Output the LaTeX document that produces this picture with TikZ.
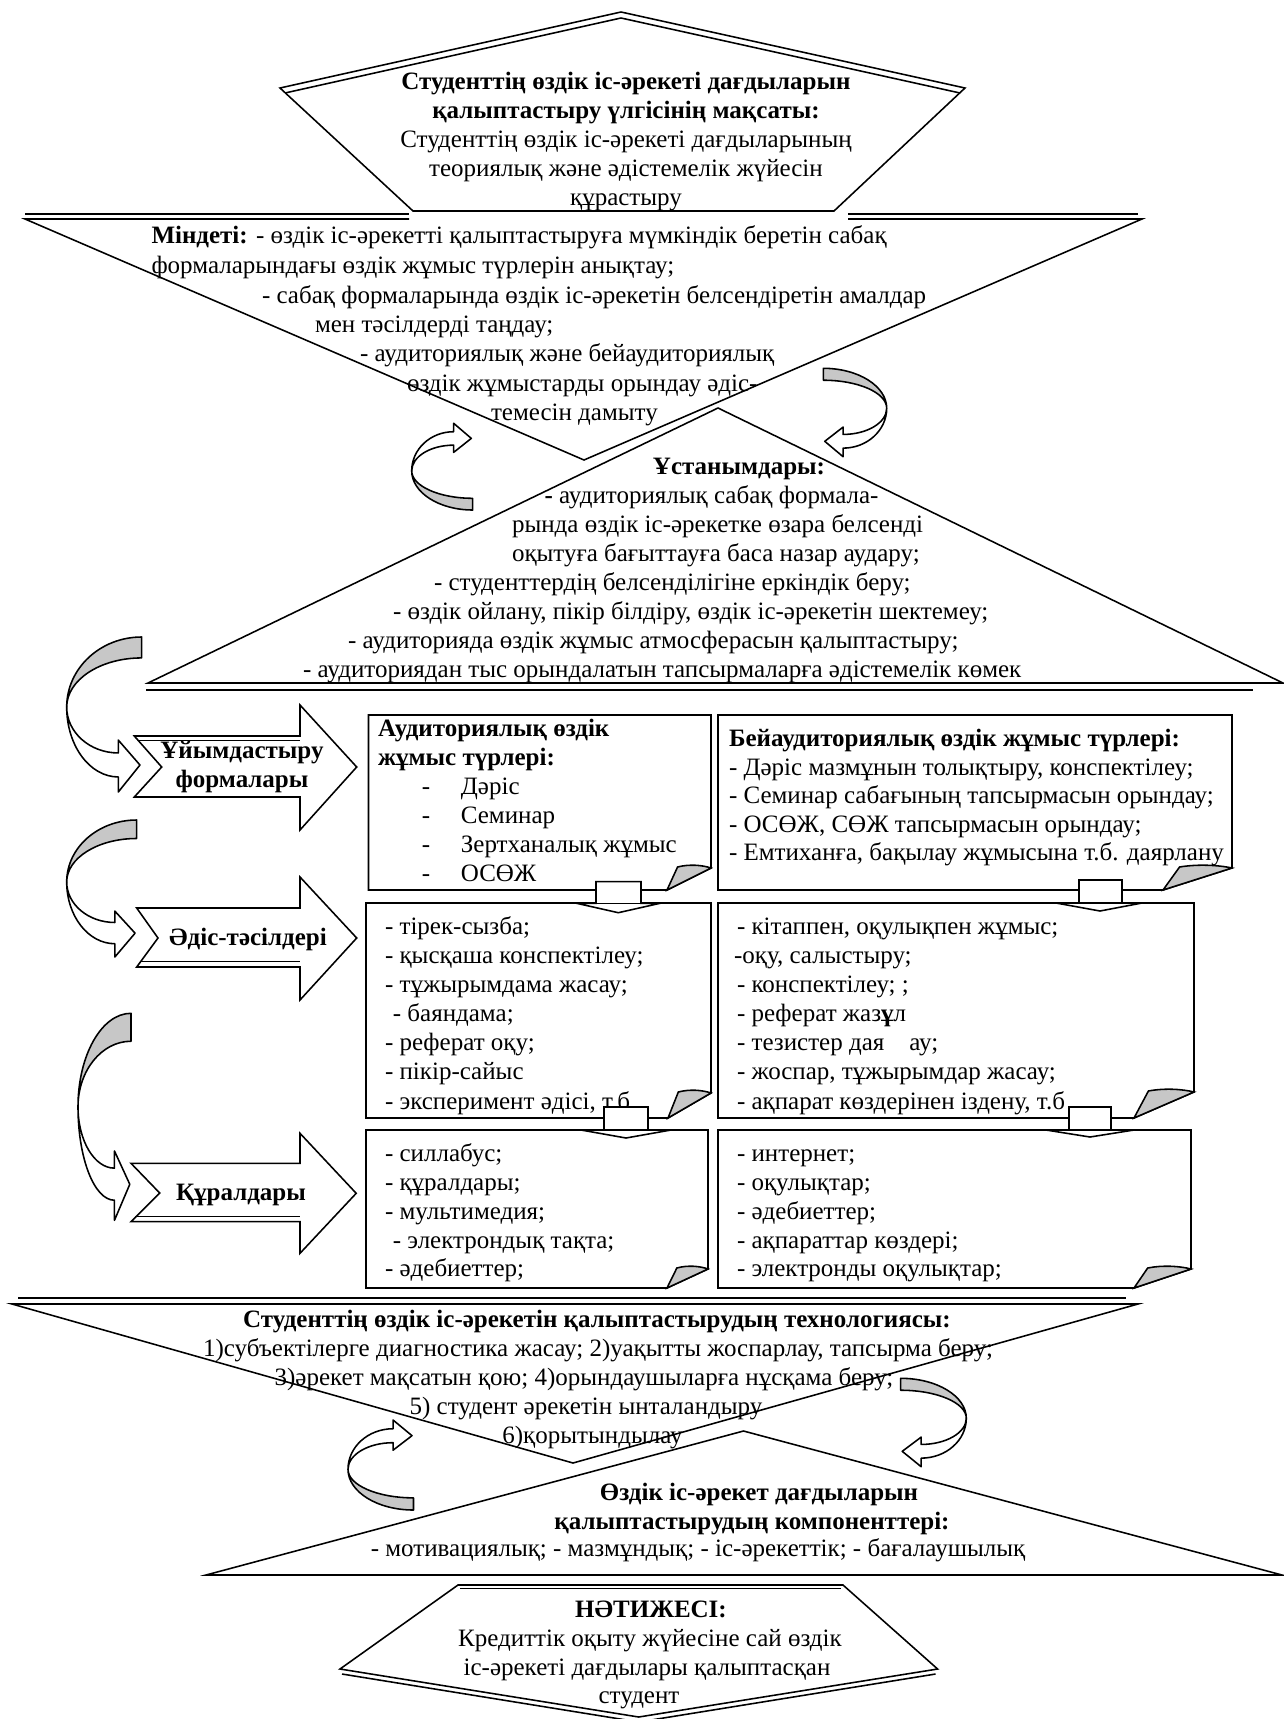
\documentclass[tikz,border=0pt]{standalone}
\usepackage{fontspec}
\setmainfont{Liberation Serif}
\definecolor{shade}{gray}{0.78}
\tikzset{
  shp/.style={draw=black, line width=0.75pt, fill=white},
  ln/.style={draw=black, line width=0.75pt},
  bk/.style={draw=black, line width=0.75pt, fill=shade, line join=round},
  txt/.style={inner sep=0pt, outer sep=0pt, font=\fontsize{12}{13.9}\selectfont},
  bt/.style={inner sep=0pt, outer sep=0pt, font=\fontsize{12}{13.9}\selectfont\bfseries},
}
\newcommand{\crvshape}{%
  \draw[bk] (1,0) .. controls (0.4477,0) and (0,0.202) .. (0,0.452)
        .. controls (0,0.277) and (0.4477,0.135) .. (1,0.135) -- cycle;
  \draw[shp, line join=round] (0,0.452) .. controls (0,0.701) and (0.308,0.903) .. (0.688,0.903)
        -- (0.688,1) -- (0.977,0.826) -- (0.688,0.665) -- (0.688,0.748)
        .. controls (0.308,0.748) and (0,0.615) .. (0,0.452) -- cycle;
}
\newcommand{\foldbox}[6]{%
  \draw[shp] (#1,#2) -- (#3,#2) -- (#3,#4-#6) -- (#3-#5,#4) -- (#1,#4) -- cycle;
  \draw[bk, line join=miter] (#3-#5,#4) -- (#3-0.76*#5,#4-#6-1)
        .. controls (#3-0.5*#5,#4-#6-4) and (#3-0.2*#5,#4-#6-3) .. (#3,#4-#6) -- cycle;
}
\begin{document}
\begin{tikzpicture}[x=0.48pt,y=-0.48pt]
\useasboundingbox (0,0) rectangle (1284,1719);
\fill[white] (0,0) rectangle (1284,1719);

% ---- Mindeti (inverted triangle)
\fill[white] (25,219) -- (1142,219) -- (584,460) -- cycle;
\draw[ln] (409,219) -- (25,219) -- (584,460) -- (1142,219) -- (848,219);
\draw[ln] (25,214) -- (409,214) (848,214) -- (1138,214);

% ---- Goal pentagon
\draw[shp] (621,12) -- (965,88) -- (834,211) -- (413,211) -- (280,88) -- cycle;
\draw[ln] (285,93) -- (621,18) -- (960,93);

% ---- Ustanymdary triangle
\draw[shp] (148,683) -- (718,408) -- (1283,683) -- cycle;
\draw[ln] (146,690) -- (1253,690);

% ---- Technology triangle
\draw[shp] (12,1304) -- (1138,1304) -- (573,1463) -- cycle;
\draw[ln] (18,1298) -- (1126,1298);

% ---- Components triangle
\draw[shp] (206,1575) -- (743.5,1431) -- (1282,1575) -- cycle;

% ---- Result pentagon
\draw[shp] (458,1585) -- (843,1585) -- (937.6,1669) -- (638.7,1717) -- (340,1669) -- cycle;
\draw[ln] (460,1588.5) -- (841,1588.5);
\draw[ln] (342,1674) -- (638.7,1722) -- (935.6,1674);

% ---- Boxes
\foldbox{368.5}{715}{711}{890}{44}{22}
\foldbox{718}{715}{1232}{890}{69}{22}
\foldbox{366}{903}{711}{1118}{43}{25}
\foldbox{718}{903}{1194}{1118}{60}{26}
\foldbox{366}{1130}{708}{1288}{41}{19}
\foldbox{718}{1130}{1191}{1288}{57}{19}

% ---- notched block arrows
\draw[shp] (134.3,736) -- (300,736) -- (300,705) -- (356.7,767) -- (300,830) -- (300,797) -- (134.3,797) -- (161.7,767) -- cycle;
\draw[ln] (138.5,740.5) -- (300,740.5);
\draw[shp] (136.7,908) -- (300,908) -- (300,877) -- (356.7,938) -- (300,1000) -- (300,967) -- (136.7,967) -- (158,938) -- cycle;
\draw[ln] (141,961.5) -- (300,961.5);
\draw[shp] (131,1163.3) -- (300,1163.3) -- (300,1133.3) -- (356.2,1193.3) -- (300,1253.3) -- (300,1221.7) -- (131,1221.7) -- (159.7,1193) -- cycle;
\draw[ln] (135,1216.5) -- (300,1216.5);

% ---- curved arrows
\begin{scope}[shift={(66.7,637)},xscale=75,yscale=155] \crvshape \end{scope}
\begin{scope}[shift={(66.7,820)},xscale=70,yscale=137] \crvshape \end{scope}
\begin{scope}[shift={(78,1013.3)},xscale=53,yscale=207] \crvshape \end{scope}
\begin{scope}[shift={(886.7,368.3)},xscale=-63.4,yscale=88.4] \crvshape \end{scope}
\begin{scope}[shift={(411.7,510)},xscale=61,yscale=-86.7] \crvshape \end{scope}
\begin{scope}[shift={(348,1510)},xscale=65.5,yscale=-90] \crvshape \end{scope}
\begin{scope}[shift={(966.3,1378.3)},xscale=-65.6,yscale=88.4] \crvshape \end{scope}

% ---- Goal text
\node[txt, align=center, anchor=north] (goal) at (626,69.7)
  {\strut\textbf{Студенттің өздік іс-әрекеті дағдыларын}\\
   \textbf{қалыптастыру үлгісінің мақсаты:}\\
   Студенттің өздік іс-әрекеті дағдыларының\\
   теориялық және әдістемелік жүйесін\\
   құрастыру};

% ---- Mindeti text
\node[txt, anchor=base west] (m1) at (151.5,243) {\textbf{Міндеті:} - өздік іс-әрекетті қалыптастыруға мүмкіндік беретін сабақ};
\node[txt, anchor=base west] (m2) at (151.5,273) {формаларындағы өздік жұмыс түрлерін анықтау;};
\node[txt, anchor=base west] (m3) at (262,303) {- сабақ формаларында өздік іс-әрекетін белсендіретін амалдар};
\node[txt, anchor=base west] (m4) at (315,332) {мен тәсілдерді таңдау;};
\node[txt, anchor=base west] (m5) at (360,361) {- аудиториялық және бейаудиториялық};
\node[txt, anchor=base west] (m6) at (407,391) {өздік жұмыстарды орындау әдіс-};
\node[txt, anchor=base west] (m7) at (491,420) {темесін дамыту};

% ---- Ustanymdary text
\node[bt, anchor=base] (u1) at (739,474) {Ұстанымдары:};
\node[txt, anchor=base west] (u2) at (544.5,503) {\textbf{-} аудиториялық сабақ формала-};
\node[txt, anchor=base west] (u3) at (512,532) {рында өздік іс-әрекетке өзара белсенді};
\node[txt, anchor=base west] (u4) at (512,561) {оқытуға бағыттауға баса назар аудару;};
\node[txt, anchor=base west] (u5) at (434,590) {- студенттердің белсенділігіне еркіндік беру;};
\node[txt, anchor=base west] (u6) at (393,619.5) {- өздік ойлану, пікір білдіру, өздік іс-әрекетін шектемеу;};
\node[txt, anchor=base west] (u7) at (348,648.6) {- аудиторияда өздік жұмыс атмосферасын қалыптастыру;};
\node[txt, anchor=base west] (u8) at (303,677.7) {- аудиториядан тыс орындалатын тапсырмаларға әдістемелік көмек};

% ---- Arrow labels
\node[bt, align=center, anchor=north] (lab1) at (242,738.7) {\strut Ұйымдастыру\\формалары};
\node[bt, anchor=base] (lab2) at (248,945) {Әдіс-тәсілдері};
\node[bt, anchor=base] (lab3) at (241,1200) {Құралдары};

% ---- Box texts
\begin{scope}
\clip (360,700) rectangle (720,885);
\node[txt, align=left, anchor=north west] (b1) at (378,716.7)
  {\strut\textbf{Аудиториялық өздік}\\
   \textbf{жұмыс түрлері:}\\
   \hspace*{21.1pt}\makebox[18.7pt][l]{-}Дәріс\\
   \hspace*{21.1pt}\makebox[18.7pt][l]{-}Семинар\\
   \hspace*{21.1pt}\makebox[18.7pt][l]{-}Зертханалық жұмыс\\
   \hspace*{21.1pt}\makebox[18.7pt][l]{-}ОСӨЖ};
\end{scope}
\node[txt, align=left, anchor=north west, font=\fontsize{12}{13.68}\selectfont] (b2) at (729,726.7)
  {\strut\textbf{Бейаудиториялық өздік жұмыс түрлері:}\\
   - Дәріс мазмұнын толықтыру, конспектілеу;\\
   - Семинар сабағының тапсырмасын орындау;\\
   - ОСӨЖ, СӨЖ тапсырмасын орындау;\\
   - Емтиханға, бақылау жұмысына т.б. даярлану};
\node[txt, align=left, anchor=north west, font=\fontsize{12}{14}\selectfont] (b3) at (385,913.7)
  {\strut - тірек-сызба;\\
   - қысқаша конспектілеу;\\
   - тұжырымдама жасау;\\
   \hspace*{3.8pt}- баяндама;\\
   - реферат оқу;\\
   - пікір-сайыс\\
   - эксперимент әдісі, т.б};
\node[txt, align=left, anchor=north west, font=\fontsize{12}{14}\selectfont] (b4) at (737,913.7)
  {\strut - кітаппен, оқулықпен жұмыс;\\
   \hspace*{-1.4pt}-оқу, салыстыру;\\
   - конспектілеу; ;\\
   - реферат жаз\textbf{ұ}л\\
   - тезистер дая\hspace{12pt}ау;\\
   - жоспар, тұжырымдар жасау;\\
   - ақпарат көздерінен іздену, т.б};
\node[txt, align=left, anchor=north west, font=\fontsize{12}{13.8}\selectfont] (b5) at (385,1141.7)
  {\strut - силлабус;\\
   - құралдары;\\
   - мультимедия;\\
   \hspace*{3.8pt}- электрондық тақта;\\
   - әдебиеттер;};
\node[txt, align=left, anchor=north west, font=\fontsize{12}{13.8}\selectfont] (b6) at (737,1141.7)
  {\strut - интернет;\\
   - оқулықтар;\\
   - әдебиеттер;\\
   - ақпараттар көздері;\\
   - электронды оқулықтар;};

% ---- Technology text
\node[bt, anchor=base] (t1) at (597,1327) {Студенттің өздік іс-әрекетін қалыптастырудың технологиясы:};
\node[txt, anchor=base] (t2) at (598,1356) {1)субъектілерге диагностика жасау; 2)уақытты жоспарлау, тапсырма беру;};
\node[txt, anchor=base] (t3) at (584,1385) {3)әрекет мақсатын қою; 4)орындаушыларға нұсқама беру;};
\node[txt, anchor=base] (t4) at (586,1414) {5) студент әрекетін ынталандыру};
\node[txt, anchor=base] (t5) at (592.5,1443) {6)қорытындылау};

% ---- Components text
\node[bt, anchor=base] (c1) at (759,1500) {Өздік іс-әрекет дағдыларын};
\node[bt, anchor=base] (c2) at (752,1529) {қалыптастырудың компоненттері:};
\node[txt, anchor=base] (c3) at (698,1556) {- мотивациялық; - мазмұндық; - іс-әрекеттік; - бағалаушылық};

% ---- Result text
\node[bt, anchor=base] (r1) at (651,1617) {НӘТИЖЕСІ:};
\node[txt, anchor=base] (r2) at (650,1646) {Кредиттік оқыту жүйесіне сай өздік};
\node[txt, anchor=base] (r3) at (647,1675) {іс-әрекеті дағдылары қалыптасқан};
\node[txt, anchor=base] (r4) at (639,1703) {студент};

% ---- down block arrows
\draw[shp] (596,881.7) -- (641,881.7) -- (641,903.3) -- (660,903.3) -- (618.3,912.7) -- (576.7,903.3) -- (596,903.3) -- cycle;
\draw[ln] (576.7,903.3) -- (660,903.3);
\draw[shp] (1079,880) -- (1122,880) -- (1122,903) -- (1142,903) -- (1100,911) -- (1056,903) -- (1079,903) -- cycle;
\draw[ln] (1056,903) -- (1142,903);
\draw[shp] (604,1107) -- (648,1107) -- (648,1130) -- (671,1130) -- (626,1138) -- (581,1130) -- (604,1130) -- cycle;
\draw[ln] (581,1130) -- (671,1130);
\draw[shp] (1069,1107) -- (1111,1107) -- (1111,1130) -- (1134,1130) -- (1090,1137) -- (1046,1130) -- (1069,1130) -- cycle;
\draw[ln] (1046,1130) -- (1134,1130);
\end{tikzpicture}
\end{document}
